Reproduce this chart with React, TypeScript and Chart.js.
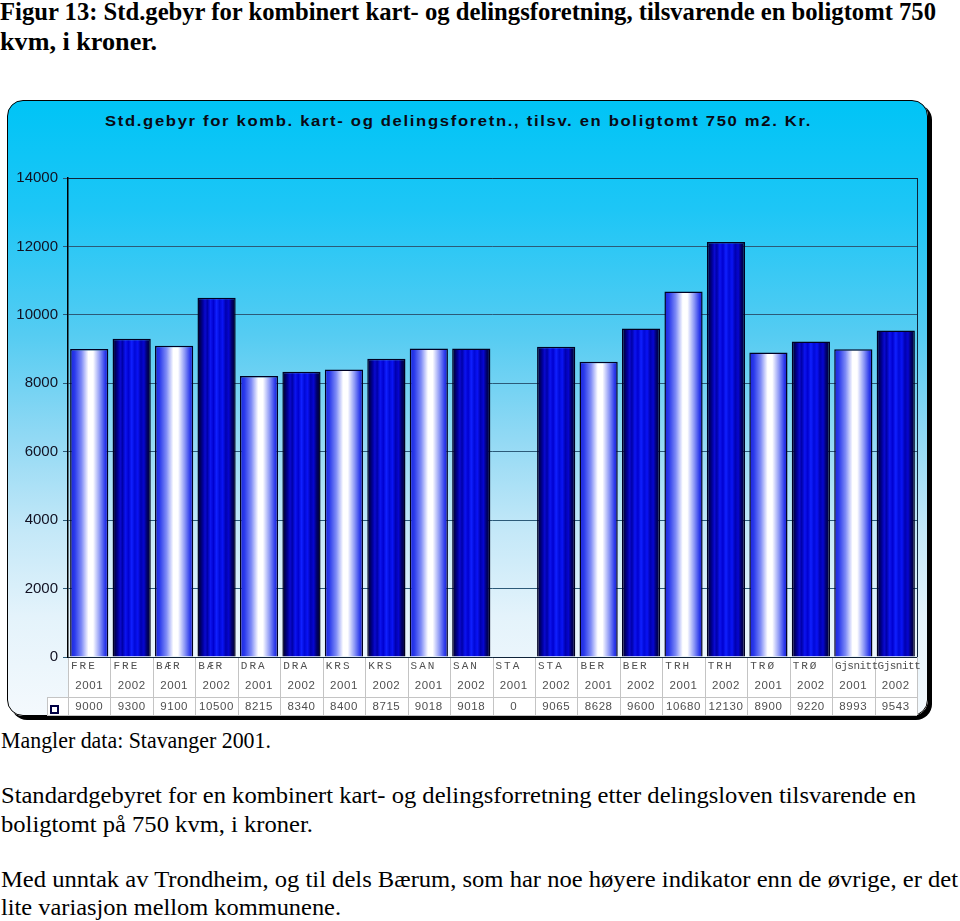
import React, { useEffect, useLayoutEffect, useRef } from 'react';
import { Chart, registerables } from 'chart.js';
Chart.register(...registerables);

const categories = ['FRE', 'FRE', 'BÆR', 'BÆR', 'DRA', 'DRA', 'KRS', 'KRS', 'SAN', 'SAN', 'STA', 'STA', 'BER', 'BER', 'TRH', 'TRH', 'TRØ', 'TRØ', 'Gjsnitt', 'Gjsnitt'];
const years = ['2001', '2002', '2001', '2002', '2001', '2002', '2001', '2002', '2001', '2002', '2001', '2002', '2001', '2002', '2001', '2002', '2001', '2002', '2001', '2002'];
const values = [9000, 9300, 9100, 10500, 8215, 8340, 8400, 8715, 9018, 9018, 0, 9065, 8628, 9600, 10680, 12130, 8900, 9220, 8993, 9543];
const yTicks = [0, 2000, 4000, 6000, 8000, 10000, 12000, 14000];

const pageTitle1 = 'Figur 13: Std.gebyr for kombinert kart- og delingsforetning, tilsvarende en boligtomt 750';
const pageTitle2 = 'kvm, i kroner.';
const chartTitle = 'Std.gebyr for komb. kart- og delingsforetn., tilsv. en boligtomt 750 m2. Kr.';
const note = 'Mangler data: Stavanger 2001.';
const para1a = 'Standardgebyret for en kombinert kart- og delingsforretning etter delingsloven tilsvarende en';
const para1b = 'boligtomt på 750 kvm, i kroner.';
const para2a = 'Med unntak av Trondheim, og til dels Bærum, som har noe høyere indikator enn de øvrige, er det';
const para2b = 'lite variasjon mellom kommunene.';

const CW = 921;
const CH = 616;

function FitText(props: { text: string; left: number; top: number; width: number; size: number; family: string; weight?: string | number; spacing?: number; color?: string }) {
  const ref = useRef<HTMLDivElement>(null);
  useLayoutEffect(() => {
    const el = ref.current;
    if (!el) return;
    el.style.transform = 'none';
    const w = el.getBoundingClientRect().width;
    if (w > 0) el.style.transform = `scaleX(${props.width / w})`;
  }, [props.text, props.width, props.size]);
  return (
    <div
      ref={ref}
      style={{
        position: 'absolute',
        left: props.left,
        top: props.top,
        whiteSpace: 'nowrap',
        fontFamily: props.family,
        fontSize: props.size,
        lineHeight: `${props.size}px`,
        fontWeight: props.weight ?? 'normal',
        letterSpacing: props.spacing ? `${props.spacing}px` : undefined,
        color: props.color ?? '#000',
        transformOrigin: '0 0',
      }}
    >
      {props.text}
    </div>
  );
}

function barFill(ctx: any) {
  const chart = ctx.chart;
  const area = chart.chartArea;
  const i = ctx.dataIndex;
  if (!area || i === undefined || !chart.scales.x) return '#1010e0';
  const cx = chart.scales.x.getPixelForValue(i);
  const slot = area.width / categories.length;
  const w = slot * 0.9;
  const g = chart.ctx.createLinearGradient(cx - w / 2, 0, cx + w / 2, 0);
  if (years[i] === '2001') {
    g.addColorStop(0, '#1a22d8');
    g.addColorStop(0.12, '#2a3aec');
    g.addColorStop(0.3, '#7f8cf6');
    g.addColorStop(0.48, '#ffffff');
    g.addColorStop(0.6, '#ffffff');
    g.addColorStop(0.78, '#8a96f6');
    g.addColorStop(0.92, '#2a38ea');
    g.addColorStop(1, '#1a20d0');
  } else {
    g.addColorStop(0, '#00002a');
    g.addColorStop(0.08, '#000060');
    g.addColorStop(0.14, '#00009a');
    g.addColorStop(0.2, '#0a0ad0');
    g.addColorStop(0.26, '#0000a8');
    g.addColorStop(0.34, '#0c14f0');
    g.addColorStop(0.42, '#0000d0');
    g.addColorStop(0.5, '#1020ff');
    g.addColorStop(0.58, '#0008d8');
    g.addColorStop(0.66, '#0a14f4');
    g.addColorStop(0.74, '#0000b0');
    g.addColorStop(0.82, '#0606d0');
    g.addColorStop(0.9, '#00006a');
    g.addColorStop(1, '#00002a');
  }
  return g;
}

const tablePlugin = {
  id: 'dataTable',
  beforeDatasetsDraw(chart: any) {
    const { ctx, chartArea } = chart;
    ctx.save();
    ctx.strokeStyle = '#10243a';
    ctx.lineWidth = 1;
    ctx.beginPath();
    ctx.moveTo(chartArea.right + 0.5, chartArea.top);
    ctx.lineTo(chartArea.right + 0.5, chartArea.bottom);
    ctx.moveTo(chartArea.left, chartArea.top + 0.5);
    ctx.lineTo(chartArea.right, chartArea.top + 0.5);
    ctx.stroke();
    ctx.restore();
  },
  afterDraw(chart: any) {
    const { ctx, chartArea } = chart;
    const xs = chart.scales.x;
    const n = categories.length;
    const slot = chartArea.width / n;
    const top = chartArea.bottom;
    const r2 = top + 40;
    const bottom = top + 58;
    const left = chartArea.left;
    const right = chartArea.right;
    ctx.save();
    ctx.fillStyle = '#ffffff';
    ctx.fillRect(left, top + 1, right - left, bottom - top - 1);
    ctx.fillRect(40, r2, left - 40, bottom - r2);
    ctx.strokeStyle = '#c4c4c4';
    ctx.lineWidth = 1;
    ctx.beginPath();
    for (let i = 0; i <= n; i++) {
      const x = Math.round(left + i * slot) + 0.5;
      ctx.moveTo(x, top);
      ctx.lineTo(x, bottom);
    }
    ctx.moveTo(40.5, r2);
    ctx.lineTo(40.5, bottom);
    ctx.moveTo(40, r2 + 0.5);
    ctx.lineTo(right, r2 + 0.5);
    ctx.moveTo(40, bottom + 0.5);
    ctx.lineTo(right, bottom + 0.5);
    ctx.stroke();
    ctx.strokeStyle = '#10243a';
    ctx.beginPath();
    ctx.moveTo(left, top + 0.5);
    ctx.lineTo(right, top + 0.5);
    ctx.stroke();
    ctx.fillStyle = '#ffffff';
    ctx.strokeStyle = '#000044';
    ctx.lineWidth = 2;
    ctx.fillRect(44, r2 + 9, 7, 7);
    ctx.strokeRect(44, r2 + 9, 7, 7);
    ctx.textBaseline = 'middle';
    for (let i = 0; i < n; i++) {
      const cx = xs.getPixelForValue(i);
      const x0 = left + i * slot;
      ctx.fillStyle = '#505050';
      ctx.font = '11px "Liberation Mono", "DejaVu Sans Mono", monospace';
      ctx.textAlign = 'left';
      (ctx as any).letterSpacing = categories[i].length > 4 ? '-0.5px' : '2px';
      ctx.fillText(categories[i], x0 + 3, top + 9);
      (ctx as any).letterSpacing = '0.6px';
      ctx.font = '11.5px "Liberation Sans", Arial, sans-serif';
      ctx.textAlign = 'center';
      ctx.fillText(years[i], cx, top + 29);
      ctx.fillText(String(values[i]), cx, top + 50);
    }
    (ctx as any).letterSpacing = '0px';
    ctx.restore();
  },
};

export default function App() {
  const canvasRef = useRef<HTMLCanvasElement>(null);

  useEffect(() => {
    const canvas = canvasRef.current;
    if (!canvas) return;
    const chart = new Chart(canvas, {
      type: 'bar',
      data: {
        labels: categories.map((c, i) => `${c} ${years[i]}`),
        datasets: [
          {
            data: values,
            backgroundColor: barFill as any,
            borderColor: '#000022',
            borderWidth: 1.5,
            barPercentage: 0.9,
            categoryPercentage: 1.0,
          },
        ],
      },
      options: {
        animation: false,
        responsive: false,
        maintainAspectRatio: false,
        layout: { padding: { left: 0, top: 78, right: 11, bottom: 0 } },
        plugins: {
          legend: { display: false },
          title: { display: false },
          tooltip: { enabled: false },
        },
        scales: {
          x: {
            type: 'category',
            offset: true,
            grid: { display: false },
            border: { display: false },
            ticks: { display: false },
            afterFit: (s: any) => {
              s.height = 59;
            },
          },
          y: {
            min: 0,
            max: 14000,
            afterBuildTicks: (s: any) => {
              s.ticks = yTicks.map((v) => ({ value: v }));
            },
            ticks: {
              color: '#111122',
              font: { family: '"Liberation Sans", Arial, sans-serif', size: 15 },
              padding: 5,
              callback: (v: any) => String(v),
            },
            grid: { color: '#2c5a78', lineWidth: 1, tickLength: 5 },
            border: { display: true, color: '#000000', width: 1.5 },
            afterFit: (s: any) => {
              s.width = 61;
            },
          },
        },
      },
      plugins: [tablePlugin],
    });
    return () => chart.destroy();
  }, []);

  const serif = '"Liberation Serif", "Times New Roman", serif';
  const sans = '"Liberation Sans", Arial, sans-serif';

  return (
    <div style={{ position: 'absolute', left: 0, top: 0, width: 960, height: 921, background: '#fff', overflow: 'hidden' }}>
      <FitText text={pageTitle1} left={0} top={-1} width={936} size={26} family={serif} weight="bold" />
      <FitText text={pageTitle2} left={0} top={29} width={157} size={26} family={serif} weight="bold" />

      <div
        style={{
          position: 'absolute',
          left: 7,
          top: 100,
          width: CW,
          height: CH,
          boxSizing: 'border-box',
          border: '1.5px solid #000',
          borderRadius: 16,
          boxShadow: '4px 4px 0 #000',
          background:
            'linear-gradient(to bottom, #00c4f6 0%, #1ec6f6 18%, #55ccf2 38%, #92d9f4 55%, #c4e8f8 70%, #e4f3fb 84%, #f4f9fd 100%)',
        }}
      />
      <FitText text={chartTitle} left={105} top={113} width={707} size={15} family={sans} weight="bold" spacing={1.5} color="#0a0a14" />
      <canvas
        ref={canvasRef}
        width={CW}
        height={CH}
        style={{ position: 'absolute', left: 7, top: 100, width: CW, height: CH }}
      />

      <FitText text={note} left={1} top={728} width={270} size={24} family={serif} />
      <FitText text={para1a} left={1} top={783} width={915} size={24} family={serif} />
      <FitText text={para1b} left={1} top={812} width={312} size={24} family={serif} />
      <FitText text={para2a} left={1} top={867} width={957} size={24} family={serif} />
      <FitText text={para2b} left={1} top={895} width={340} size={24} family={serif} />
    </div>
  );
}
